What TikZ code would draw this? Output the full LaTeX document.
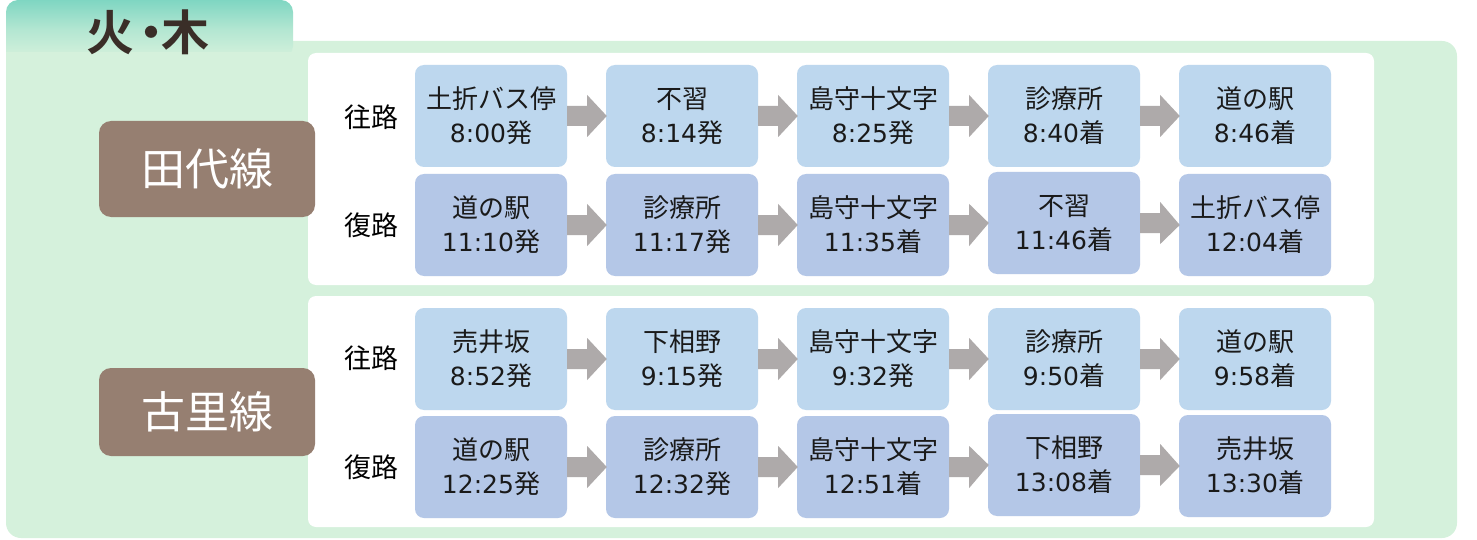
\documentclass[tikz,border=0pt]{standalone}
\usepackage{fontspec}
\setmainfont{Noto Sans CJK JP}[BoldFont={Noto Sans CJK JP Bold}]
\newfontfamily\latn{DejaVu Sans}
\usetikzlibrary{calc}
\definecolor{panelgreen}{HTML}{D5F1DC}
\definecolor{tabteal}{HTML}{7FD6C2}
\definecolor{linebrown}{HTML}{967F71}
\definecolor{outblue}{HTML}{BDD7EE}
\definecolor{retblue}{HTML}{B4C7E7}
\definecolor{arrgray}{HTML}{AEAAAA}
\definecolor{titlebrown}{HTML}{3A2E28}
\definecolor{txt}{HTML}{1A1A1A}
\newcommand\tm[1]{{\latn\fontsize{25}{34}\selectfont #1}}
\tikzset{
  stopbox/.style={rounded corners=9pt, minimum width=152pt, minimum height=102pt,
    inner sep=0pt, align=center, text=txt, font=\fontsize{26}{34}\selectfont},
  outbox/.style={stopbox, fill=outblue},
  retbox/.style={stopbox, fill=retblue},
  linebox/.style={rounded corners=12pt, fill=linebrown, minimum width=216pt,
    inner sep=0pt, text=white, font=\fontsize{44}{44}\selectfont},
  dirlabel/.style={text=black, font=\fontsize{27}{27}\selectfont, inner sep=0pt},
  whitepanel/.style={fill=white, rounded corners=8pt},
  titletext/.style={text=titlebrown, font=\fontsize{48}{48}\selectfont\bfseries, inner sep=0pt},
}
\newcommand\blockarrow[2]{%
  \fill[arrgray] ($(#1.east)+(0,-10)$) -- ($(#1.east)+(20,-10)$) -- ($(#1.east)+(20,-21)$)
    -- ($(#2.west)+(1,0)$) -- ($(#1.east)+(20,21)$) -- ($(#1.east)+(20,10)$)
    -- ($(#1.east)+(0,10)$) -- cycle;}
\begin{document}
\begin{tikzpicture}[x=1pt,y=-1pt]
\useasboundingbox (0,0) rectangle (1477,540);
% main panel
\fill[panelgreen, rounded corners=15pt] (6,41) rectangle (1457,538);
% tab
\shade[top color=tabteal, bottom color=panelgreen, middle color=panelgreen!60!tabteal]
  [rounded corners=12pt] (6,58) -- (6,0) -- (293,0) -- (293,58) [sharp corners] -- cycle;
\fill[panelgreen] (6,52) rectangle (293,60);
\node[titletext] (title) at (148,32) {火\kern-7pt・\kern-14pt木};
% white panels
\fill[whitepanel] (308,53) rectangle (1374,285);
\fill[whitepanel] (308,296) rectangle (1374,527);
% line labels
\node[linebox, minimum height=96pt] (tashiro) at (207,169) {田代線};
\node[linebox, minimum height=88pt] (furusato) at (207,412) {古里線};
% direction labels
\node[dirlabel] (d1) at (371,117) {往路};
\node[dirlabel] (d2) at (371,225) {復路};
\node[dirlabel] (d3) at (371,358) {往路};
\node[dirlabel] (d4) at (371,467) {復路};
% row 1
\node[outbox] (a1) at (491,116) {土折バス停\\\tm{8:00}発};
\node[outbox] (a2) at (682,116) {不習\\\tm{8:14}発};
\node[outbox] (a3) at (873,116) {島守十文字\\\tm{8:25}発};
\node[outbox] (a4) at (1064,116) {診療所\\\tm{8:40}着};
\node[outbox] (a5) at (1255,116) {道の駅\\\tm{8:46}着};
% row 2
\node[retbox] (b1) at (491,225) {道の駅\\\tm{11:10}発};
\node[retbox] (b2) at (682,225) {診療所\\\tm{11:17}発};
\node[retbox] (b3) at (873,225) {島守十文字\\\tm{11:35}着};
\node[retbox] (b4) at (1064,223) {不習\\\tm{11:46}着};
\node[retbox] (b5) at (1255,225) {土折バス停\\\tm{12:04}着};
% row 3
\node[outbox] (c1) at (491,359) {売井坂\\\tm{8:52}発};
\node[outbox] (c2) at (682,359) {下相野\\\tm{9:15}発};
\node[outbox] (c3) at (873,359) {島守十文字\\\tm{9:32}発};
\node[outbox] (c4) at (1064,359) {診療所\\\tm{9:50}着};
\node[outbox] (c5) at (1255,359) {道の駅\\\tm{9:58}着};
% row 4
\node[retbox] (e1) at (491,467) {道の駅\\\tm{12:25}発};
\node[retbox] (e2) at (682,467) {診療所\\\tm{12:32}発};
\node[retbox] (e3) at (873,467) {島守十文字\\\tm{12:51}着};
\node[retbox] (e4) at (1064,465) {下相野\\\tm{13:08}着};
\node[retbox] (e5) at (1255,466) {売井坂\\\tm{13:30}着};
% arrows
\foreach \r in {a,b,c,e}{
  \blockarrow{\r1}{\r2}
  \blockarrow{\r2}{\r3}
  \blockarrow{\r3}{\r4}
  \blockarrow{\r4}{\r5}
}
\end{tikzpicture}
\end{document}
